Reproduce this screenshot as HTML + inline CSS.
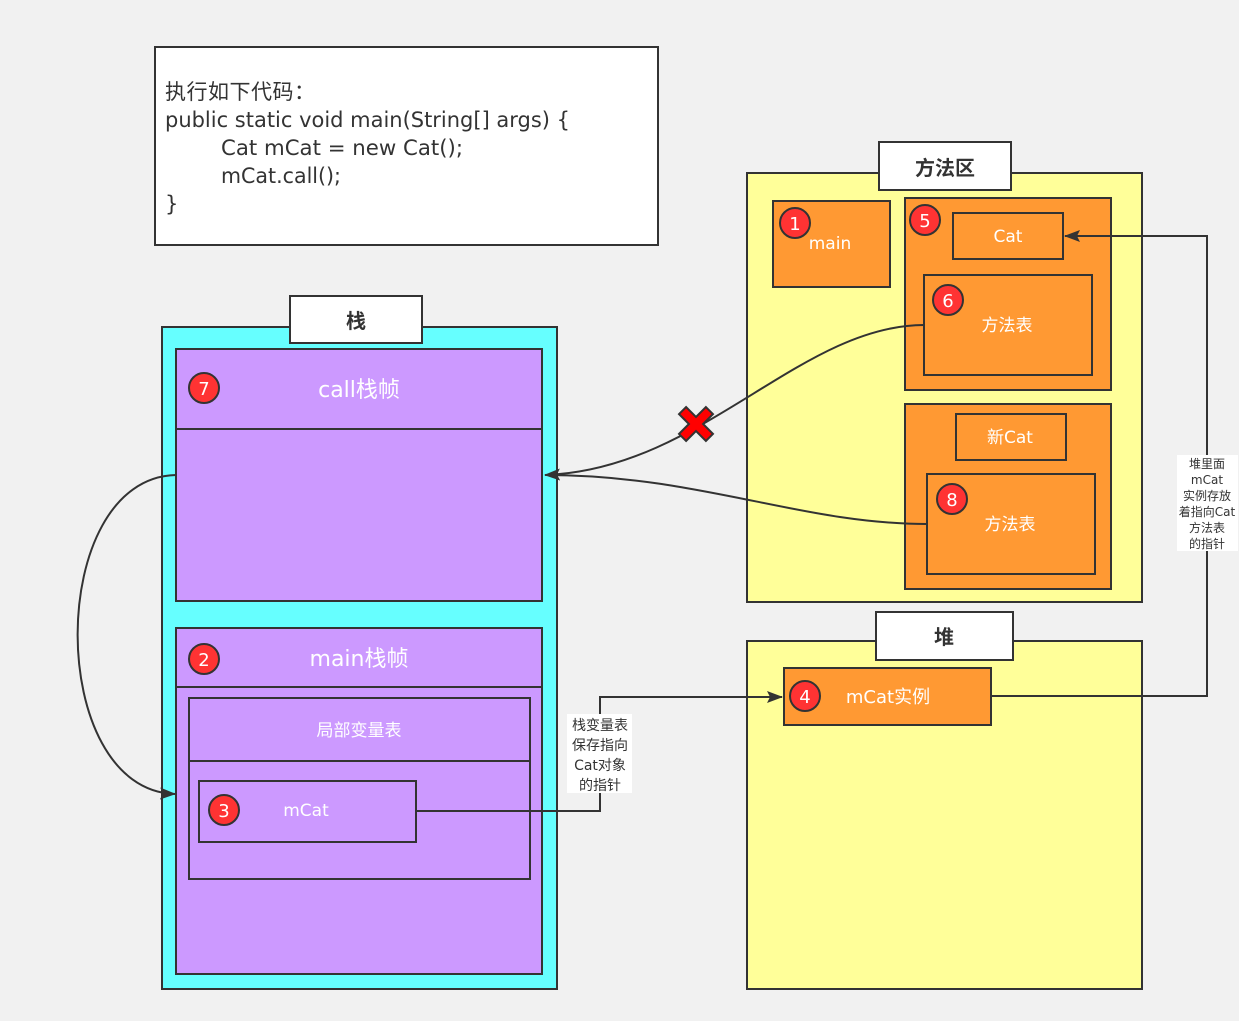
<!DOCTYPE html>
<html><head><meta charset="utf-8"><style>
html,body{margin:0;padding:0;background:#f1f1f1;}
svg{display:block;}
text{font-family:"DejaVu Sans","Noto Sans CJK SC",sans-serif;}
</style></head><body>
<svg width="1239" height="1021" viewBox="0 0 1239 1021" xmlns="http://www.w3.org/2000/svg">
<defs>
<marker id="ar" markerWidth="16" markerHeight="12" refX="15" refY="6" orient="auto" markerUnits="userSpaceOnUse">
<path d="M0,0 L16,6 L0,12 L3,6 Z" fill="#333"/></marker>
</defs>
<rect width="1239" height="1021" fill="#f1f1f1"/>
<g stroke="#333" stroke-width="2">
<rect x="155" y="47" width="503" height="198" fill="#fff"/>
<rect x="162" y="327" width="395" height="662" fill="#66ffff"/>
<rect x="290" y="296" width="132" height="47" fill="#fff"/>
<rect x="176" y="349" width="366" height="252" fill="#cc99ff"/>
<line x1="176" y1="429" x2="542" y2="429"/>
<rect x="176" y="628" width="366" height="346" fill="#cc99ff"/>
<line x1="176" y1="687" x2="542" y2="687"/>
<rect x="189" y="698" width="341" height="181" fill="#cc99ff"/>
<line x1="189" y1="761" x2="530" y2="761"/>
<rect x="199" y="781" width="217" height="61" fill="#cc99ff"/>
<rect x="747" y="173" width="395" height="429" fill="#ffff99"/>
<rect x="879" y="142" width="132" height="48" fill="#fff"/>
<rect x="773" y="201" width="117" height="86" fill="#ff9933"/>
<rect x="905" y="198" width="206" height="192" fill="#ff9933"/>
<rect x="953" y="213" width="110" height="46" fill="#ff9933"/>
<rect x="924" y="275" width="168" height="100" fill="#ff9933"/>
<rect x="905" y="404" width="206" height="185" fill="#ff9933"/>
<rect x="956" y="414" width="110" height="46" fill="#ff9933"/>
<rect x="927" y="474" width="168" height="100" fill="#ff9933"/>
<rect x="747" y="641" width="395" height="348" fill="#ffff99"/>
<rect x="876" y="612" width="137" height="48" fill="#fff"/>
<rect x="784" y="668" width="207" height="57" fill="#ff9933"/>
</g>
<g fill="none" stroke="#333" stroke-width="2">
<path d="M416,811 H600 V697 H782" marker-end="url(#ar)"/>
<path d="M991,696 H1207 V236 H1065" marker-end="url(#ar)"/>
<path d="M924,325 C800,325 700,470 545,475" marker-end="url(#ar)"/>
<path d="M927,524 C800,524 700,475 545,475"/>
<path d="M176,475 C45,478 45,790 175,794" marker-end="url(#ar)"/>
</g>
<g transform="translate(696,424) rotate(45)">
<path d="M-5,-19 H5 V-5 H19 V5 H5 V19 H-5 V5 H-19 V-5 H-5 Z" fill="#ff0000" stroke="#333" stroke-width="2"/>
</g>
<rect x="567" y="714" width="65" height="79" fill="#fff"/>
<rect x="1177" y="455" width="61" height="96" fill="#fff"/>
<g fill="#333" font-size="14" text-anchor="middle">
<text x="600" y="730">栈变量表</text>
<text x="600" y="750">保存指向</text>
<text x="600" y="770">Cat对象</text>
<text x="600" y="790">的指针</text>
</g>
<g fill="#333" font-size="12" text-anchor="middle">
<text x="1207" y="468">堆里面</text>
<text x="1207" y="484">mCat</text>
<text x="1207" y="500">实例存放</text>
<text x="1207" y="516">着指向Cat</text>
<text x="1207" y="532">方法表</text>
<text x="1207" y="548">的指针</text>
</g>
<g fill="#333" font-size="21">
<text x="165" y="99" textLength="150">执行如下代码：</text>
<text x="165" y="127" textLength="405" lengthAdjust="spacingAndGlyphs">public static void main(String[] args) {</text>
<text x="221" y="155" textLength="242" lengthAdjust="spacingAndGlyphs">Cat mCat = new Cat();</text>
<text x="221" y="183" textLength="120" lengthAdjust="spacingAndGlyphs">mCat.call();</text>
<text x="165" y="211">}</text>
</g>
<g fill="#333" font-size="20" font-weight="bold" text-anchor="middle">
<text x="356" y="328">栈</text>
<text x="945" y="175">方法区</text>
<text x="944" y="644">堆</text>
</g>
<g fill="#ff3333" stroke="#333" stroke-width="2">
<circle cx="795" cy="223" r="15"/>
<circle cx="925" cy="220" r="15"/>
<circle cx="948" cy="300" r="15"/>
<circle cx="952" cy="499" r="15"/>
<circle cx="805" cy="696" r="15"/>
<circle cx="204" cy="388" r="15"/>
<circle cx="204" cy="659" r="15"/>
<circle cx="224" cy="810" r="15"/>
</g>
<g fill="#fff" font-size="18" text-anchor="middle">
<text x="795" y="230">1</text>
<text x="925" y="227">5</text>
<text x="948" y="307">6</text>
<text x="952" y="506">8</text>
<text x="805" y="703">4</text>
<text x="204" y="395">7</text>
<text x="204" y="666">2</text>
<text x="224" y="817">3</text>
</g>
<g fill="#fff" text-anchor="middle">
<text x="359" y="397" font-size="22">call栈帧</text>
<text x="359" y="666" font-size="22">main栈帧</text>
<text x="359" y="736" font-size="17">局部变量表</text>
<text x="306" y="816" font-size="17">mCat</text>
<text x="830" y="249" font-size="17">main</text>
<text x="1008" y="242" font-size="17">Cat</text>
<text x="1007" y="331" font-size="17">方法表</text>
<text x="1010" y="443" font-size="17">新Cat</text>
<text x="1010" y="530" font-size="17">方法表</text>
<text x="888" y="703" font-size="18">mCat实例</text>
</g>
</svg>
</body></html>
